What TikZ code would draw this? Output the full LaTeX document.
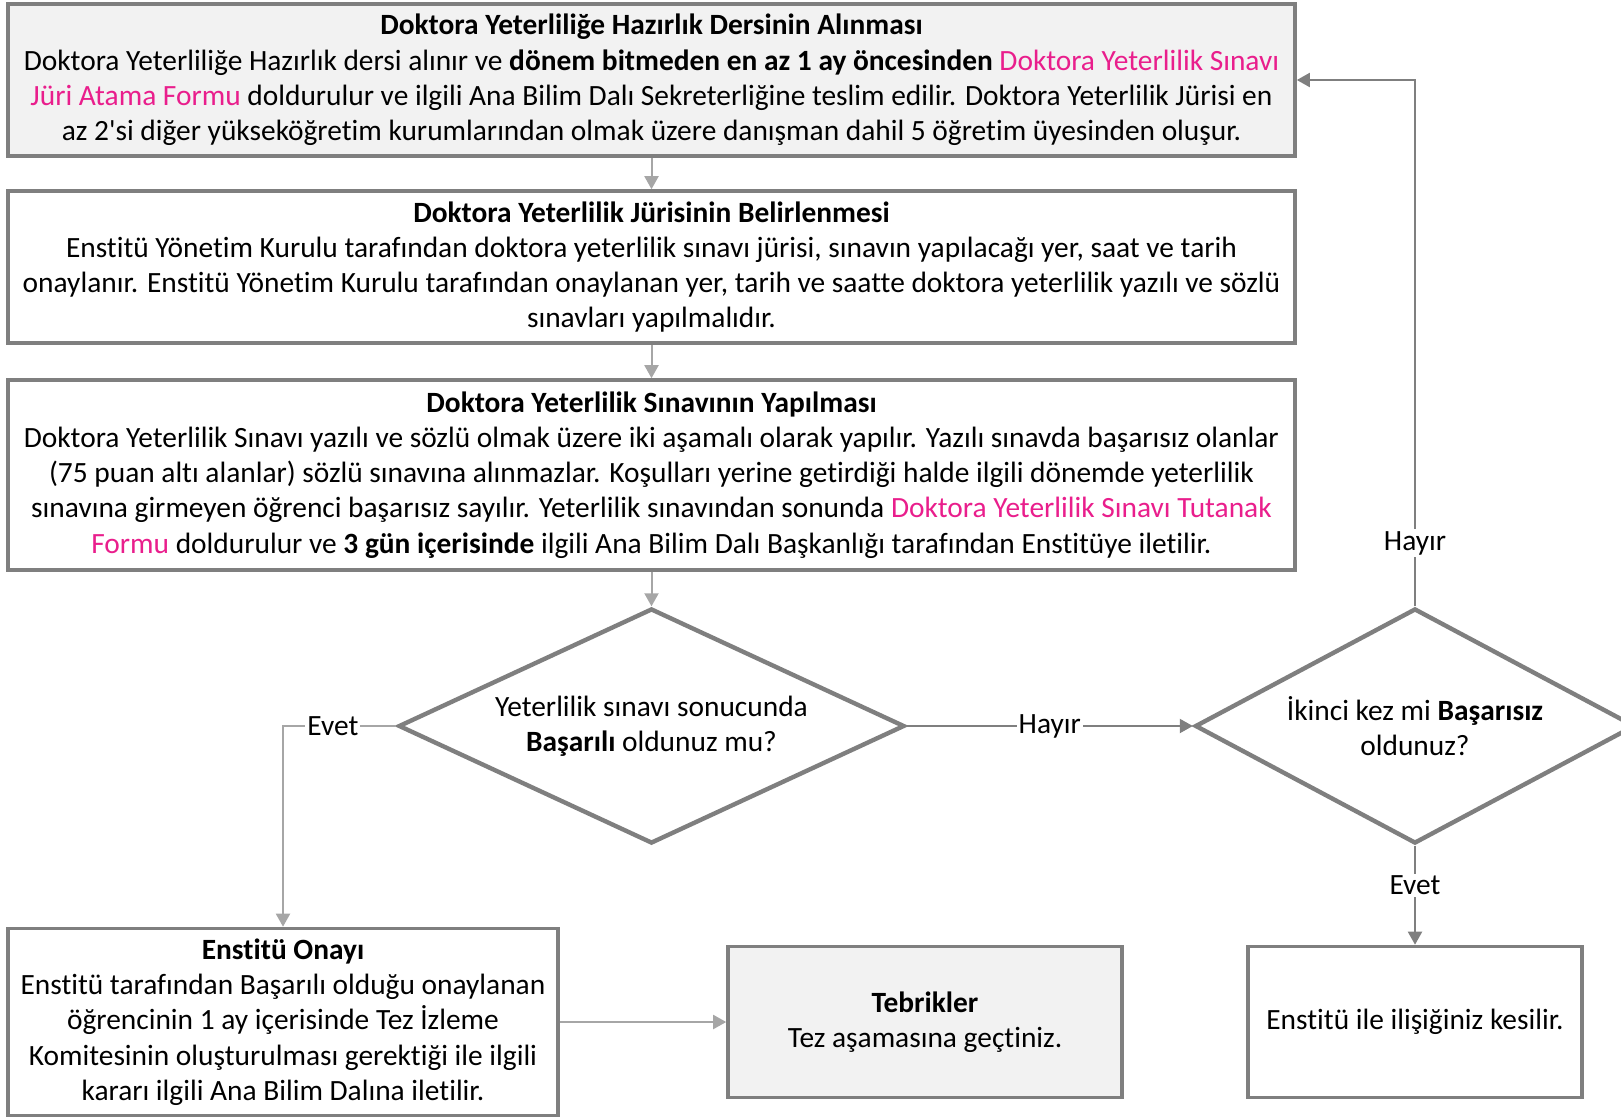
\documentclass[tikz,border=0pt]{standalone}
\usepackage{fontspec}
\setmainfont[Ligatures={NoCommon}]{Carlito}
\usetikzlibrary{shapes.geometric,arrows.meta}
\definecolor{kenar}{HTML}{7F7F7F}
\definecolor{acik}{HTML}{A6A6A6}
\definecolor{zemin}{HTML}{F2F2F2}
\definecolor{pembe}{HTML}{E91E8C}
\newcommand{\pem}[1]{\textcolor{pembe}{#1}}
\newcommand{\yazi}{\fontsize{14.7}{17.6}\selectfont}
\begin{document}
\begin{tikzpicture}[x=0.5pt,y=-0.5pt,
	kutu/.style={draw=kenar,line width=1.8pt,rectangle,align=center,inner sep=0pt,font=\yazi},
	karar/.style={draw=kenar,line width=2.2pt,diamond,inner sep=0pt},
	ictext/.style={font=\yazi,align=center,inner sep=0pt},
	okacik/.style={draw=acik,line width=1pt,-{Triangle[length=6.5pt,width=7pt]}},
	okkoyu/.style={draw=kenar,line width=1pt,-{Triangle[length=6.5pt,width=7pt]}},
	etiket/.style={fill=white,inner sep=1pt,font=\yazi}]
	\useasboundingbox (0,0) rectangle (1621,1119);
	% Kutular
	\node[kutu,fill=zemin,minimum width=643.5pt,minimum height=76pt] (ders) at (651.5,80)
	{\textbf{Doktora Yeterliliğe Hazırlık Dersinin Alınması}\\
	Doktora Yeterliliğe Hazırlık dersi alınır ve \textbf{dönem bitmeden en az 1 ay öncesinden} \pem{Doktora Yeterlilik Sınavı}\\
	\pem{Jüri Atama Formu} doldurulur ve ilgili Ana Bilim Dalı Sekreterliğine teslim edilir. Doktora Yeterlilik Jürisi en\\
	az 2\textquotesingle si diğer yükseköğretim kurumlarından olmak üzere danışman dahil 5 öğretim üyesinden oluşur.};
	\node[kutu,minimum width=643.5pt,minimum height=76pt] (juri) at (651.5,267)
	{\textbf{Doktora Yeterlilik Jürisinin Belirlenmesi}\\
	Enstitü Yönetim Kurulu tarafından doktora yeterlilik sınavı jürisi, sınavın yapılacağı yer, saat ve tarih\\
	onaylanır. Enstitü Yönetim Kurulu tarafından onaylanan yer, tarih ve saatte doktora yeterlilik yazılı ve sözlü\\
	sınavları yapılmalıdır.};
	\node[kutu,minimum width=643.5pt,minimum height=95pt] (sinav) at (651.5,475)
	{\textbf{Doktora Yeterlilik Sınavının Yapılması}\\
	Doktora Yeterlilik Sınavı yazılı ve sözlü olmak üzere iki aşamalı olarak yapılır. Yazılı sınavda başarısız olanlar\\
	(75 puan altı alanlar) sözlü sınavına alınmazlar. Koşulları yerine getirdiği halde ilgili dönemde yeterlilik\\
	sınavına girmeyen öğrenci başarısız sayılır. Yeterlilik sınavından sonunda \pem{Doktora Yeterlilik Sınavı Tutanak}\\
	\pem{Formu} doldurulur ve \textbf{3 gün içerisinde} ilgili Ana Bilim Dalı Başkanlığı tarafından Enstitüye iletilir.};
	% Karar kutuları
	\node[karar,minimum width=253pt,minimum height=117.5pt,
	label={[ictext]center:{Yeterlilik sınavı sonucunda\\ \textbf{Başarılı} oldunuz mu?}}] (basari) at (651.5,726) {};
	\node[karar,minimum width=220pt,minimum height=117.5pt,
	label={[ictext]center:{İkinci kez mi \textbf{Başarısız}\\ oldunuz?}}] (ikinci) at (1415,726) {};
	% Alt kutular
	\node[kutu,minimum width=275pt,minimum height=93.5pt] (onay) at (283,1022)
	{\textbf{Enstitü Onayı}\\
	Enstitü tarafından Başarılı olduğu onaylanan\\
	öğrencinin 1 ay içerisinde Tez İzleme\\
	Komitesinin oluşturulması gerektiği ile ilgili\\
	kararı ilgili Ana Bilim Dalına iletilir.};
	\node[kutu,fill=zemin,minimum width=197pt,minimum height=75.5pt] (tebrik) at (925,1022)
	{\textbf{Tebrikler}\\ Tez aşamasına geçtiniz.};
	\node[kutu,minimum width=167pt,minimum height=75.5pt] (kesil) at (1415,1022)
	{Enstitü ile ilişiğiniz kesilir.};
	% Oklar
	\draw[okacik] (ders) -- (juri);
	\draw[okacik] (juri) -- (sinav);
	\draw[okacik] (sinav) -- (basari);
	\draw[okacik] (basari.west) -| (onay.north) node[etiket,pos=0.28]{Evet};
	\draw[okkoyu] (basari.east) -- (ikinci.west) node[etiket,midway]{Hayır};
	\draw[okkoyu] (ikinci.north) |- (ders.east) node[etiket,pos=0.06]{Hayır};
	\draw[okkoyu] (ikinci.south) -- (kesil.north) node[etiket,pos=0.4]{Evet};
	\draw[okacik] (onay.east) -- (tebrik.west);
\end{tikzpicture}
\end{document}
